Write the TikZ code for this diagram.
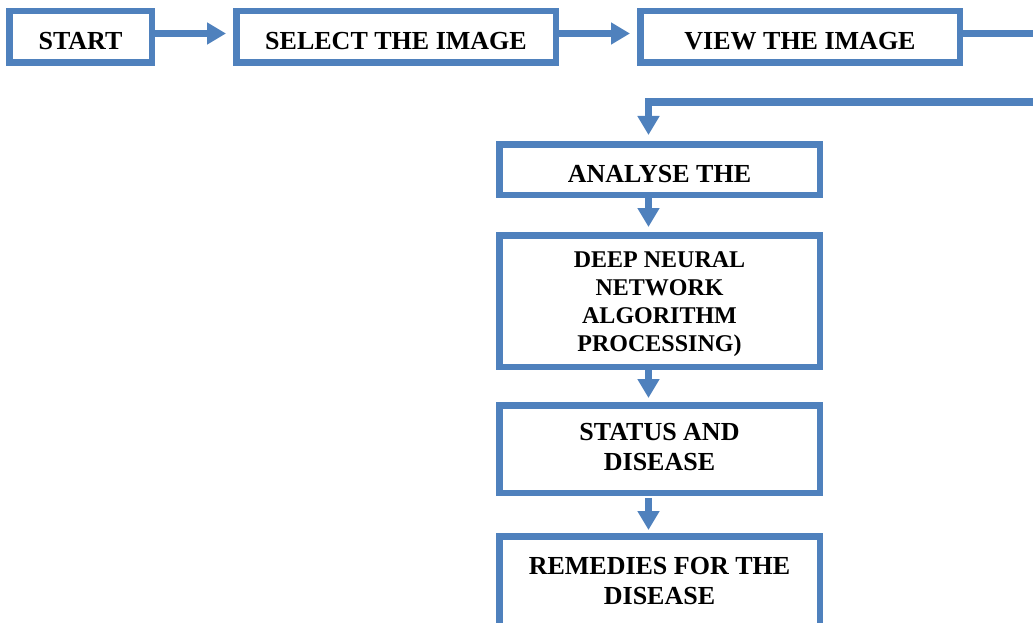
\documentclass[tikz,border=0pt]{standalone}
\usepackage{fontspec}
\setmainfont{Liberation Serif}
\usetikzlibrary{arrows.meta}
\definecolor{boxblue}{HTML}{4F81BD}
\newcommand\lowered[2]{\raisebox{-#1}[\height][\depth]{#2}}
\begin{document}
\begin{tikzpicture}[x=1pt,y=-1pt,
  flowbox/.style={draw=boxblue, line width=6.5pt, fill=white, inner sep=0pt,
    font=\bfseries\fontsize{26}{30}\selectfont},
  flowarrow/.style={draw=boxblue, line width=7.5pt, -{Triangle[length=19pt,width=21pt]}}]
\clip (0,0) rectangle (1033,623);
\node[flowbox, minimum width=142.5pt, minimum height=51.5pt] (start) at (80.5,37) {\lowered{4pt}{START}};
\node[flowbox, minimum width=319.5pt, minimum height=51.5pt] (select) at (396,37) {\lowered{4pt}{SELECT THE IMAGE}};
\node[flowbox, minimum width=319.5pt, minimum height=51.5pt] (view) at (800,37) {\lowered{4pt}{VIEW THE IMAGE}};
\node[flowbox, minimum width=320.5pt, minimum height=50.5pt] (analyse) at (659.5,169.5) {\lowered{4.5pt}{ANALYSE THE}};
\node[flowbox, minimum width=320.5pt, minimum height=131.5pt, font=\bfseries\fontsize{24}{28}\selectfont] (dnn) at (659.5,301)
  {\lowered{3pt}{\begin{tabular}{@{}c@{}}DEEP NEURAL\\NETWORK\\ALGORITHM\\PROCESSING)\end{tabular}}};
\node[flowbox, minimum width=320.5pt, minimum height=87.5pt] (status) at (659.5,449)
  {\begin{tabular}{@{}c@{}}STATUS AND\\DISEASE\end{tabular}};
\node[flowbox, minimum width=320.5pt, minimum height=93.5pt] (remedies) at (659.5,583)
  {\begin{tabular}{@{}c@{}}REMEDIES FOR THE\\DISEASE\end{tabular}};
\coordinate (edgeA) at (1045,33.5);
\coordinate (edgeB) at (1045,102);
\coordinate (turn) at (648.5,102);
\draw[flowarrow] ([yshift=3.5pt]start.east) -- ([xshift=-7pt,yshift=3.5pt]select.west);
\draw[flowarrow] ([yshift=3.5pt]select.east) -- ([xshift=-7pt,yshift=3.5pt]view.west);
\draw[flowarrow] ([yshift=3.5pt]view.east) -- (edgeA) -- (edgeB) -- (turn) -- ([xshift=-11pt,yshift=6pt]analyse.north);
\draw[flowarrow] ([xshift=-11pt]analyse.south) -- ([xshift=-11pt,yshift=5pt]dnn.north);
\draw[flowarrow] ([xshift=-11pt]dnn.south) -- ([xshift=-11pt,yshift=4pt]status.north);
\draw[flowarrow] ([xshift=-11pt,yshift=-2pt]status.south) -- ([xshift=-11pt,yshift=3pt]remedies.north);
\end{tikzpicture}
\end{document}
